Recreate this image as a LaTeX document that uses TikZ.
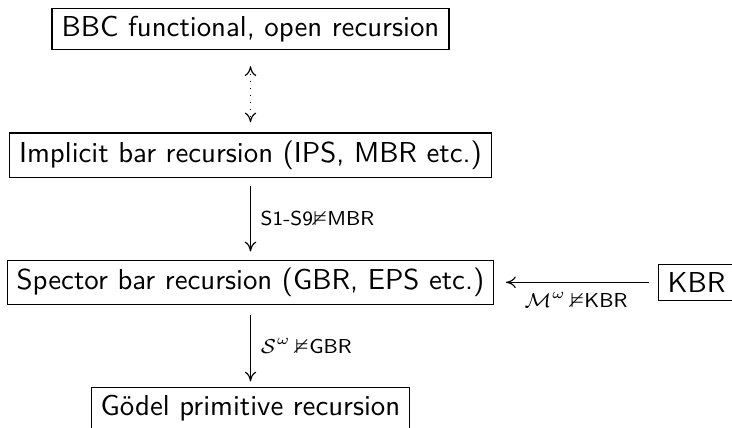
\documentclass[tikz,border=0pt]{standalone}
\usepackage{amssymb}
\usepackage{tikz}
\usetikzlibrary{positioning, arrows.meta}

\begin{document}
\begin{tikzpicture}[
    x=0.347pt, y=-0.347pt,
    theory/.style={rectangle, draw=black, font=\sffamily, inner xsep=3.33pt, inner ysep=2.7pt},
    reduct/.style={-{To[length=3.4pt, width=4pt]}},
    lbl/.style={font=\scriptsize\sffamily}
]
\useasboundingbox (0,0) rectangle (732,427);

% Nodes
\node (bbc) [theory] at (250.5,29) {BBC functional, open recursion};
\node (implicit) [theory, below=28.5pt of bbc] {Implicit bar recursion (IPS, MBR etc.)};
\node (spector) [theory, below=28.3pt of implicit] {Spector bar recursion (GBR, EPS etc.)};
\node (goedel) [theory, below=28.3pt of spector] {Gödel primitive recursion};
\node (kbr) [theory, right=56.6pt of spector] {KBR};

% Edges
\draw [{To[length=3.4pt, width=4pt]}-{To[length=3.4pt, width=4pt]}, dotted, shorten <=5.5pt, shorten >=3.5pt] (bbc) -- (implicit);
\draw [reduct, shorten <=2.8pt, shorten >=2.8pt] (implicit) -- node[lbl, right] {S1-S9${\nvDash}\mathsf{MBR}$} (spector);
\draw [reduct, shorten <=3.5pt, shorten >=1.8pt] (spector) -- node[lbl, right] {$\mathcal{S}^\omega\,{\nvDash}\mathsf{GBR}$} (goedel);
\draw [reduct, shorten <=3pt, shorten >=4pt] (kbr) -- node[lbl, below] {$\mathcal{M}^\omega\,{\nvDash}\mathsf{KBR}$} (spector);

\end{tikzpicture}
\end{document}
